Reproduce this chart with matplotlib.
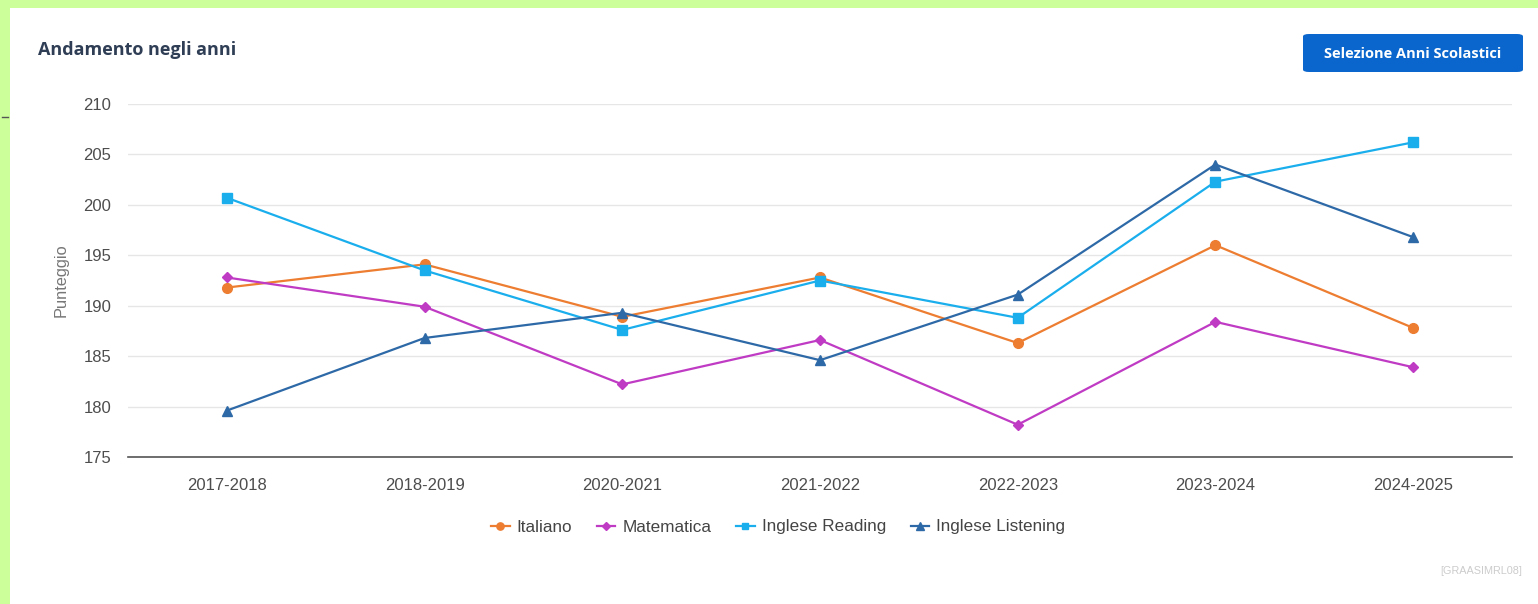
import matplotlib
matplotlib.use("Agg")
import matplotlib.pyplot as plt
from matplotlib.patches import Rectangle, FancyBboxPatch
from matplotlib.lines import Line2D

categories = ["2017-2018", "2018-2019", "2020-2021", "2021-2022", "2022-2023", "2023-2024", "2024-2025"]
italiano = [191.8, 194.1, 188.9, 192.8, 186.3, 196.0, 187.8]
matematica = [192.8, 189.9, 182.2, 186.6, 178.2, 188.4, 183.9]
inglese_reading = [200.7, 193.5, 187.6, 192.5, 188.8, 202.3, 206.2]
inglese_listening = [179.6, 186.8, 189.3, 184.6, 191.1, 204.0, 196.8]
yticks = [175, 180, 185, 190, 195, 200, 205, 210]

W, H = 1538, 604
fig = plt.figure(figsize=(W / 100, H / 100), dpi=100)
fig.patch.set_facecolor("#ccff99")
fig.patches.append(Rectangle((10 / W, 0), 1, 1 - 8 / H, transform=fig.transFigure,
                             facecolor="white", edgecolor="none", zorder=-10))
fig.lines.append(Line2D([2 / W, 8 / W], [1 - 117 / H, 1 - 117 / H], transform=fig.transFigure,
                        color="#555555", lw=1))

ax = fig.add_axes([128 / W, 1 - 457 / H, (1512 - 128) / W, (457 - 104) / H])
ax.set_zorder(1)
ax.set_facecolor("none")

series = [
    ("Italiano", italiano, "#ed7d31", "o", 7),
    ("Matematica", matematica, "#c03bc4", "D", 5),
    ("Inglese Reading", inglese_reading, "#1aaeed", "s", 6.5),
    ("Inglese Listening", inglese_listening, "#2e69a7", "^", 7),
]
x = list(range(len(categories)))
handles = []
for name, vals, col, mk, ms in series:
    h, = ax.plot(x, vals, color=col, marker=mk, markersize=ms, lw=1.6, label=name, zorder=3)
    handles.append(h)

ax.set_xlim(-0.5, len(categories) - 0.5)
ax.set_ylim(175, 210)
ax.set_yticks(yticks)
ax.set_xticks(x)
ax.set_xticklabels(categories)
ax.grid(axis="y", color="#e6e6e6", lw=1)
ax.set_axisbelow(True)
for s in ["top", "right", "left"]:
    ax.spines[s].set_visible(False)
ax.spines["bottom"].set_color("#555555")
ax.spines["bottom"].set_linewidth(1.2)
ax.tick_params(axis="both", length=0, labelsize=12, labelcolor="#4d4d4d",
               labelfontfamily="Liberation Sans")
ax.tick_params(axis="x", pad=15)
ax.tick_params(axis="y", pad=12)
ax.set_ylabel("Punteggio", fontsize=11.8, color="#777777", family="Liberation Sans", labelpad=11)

fig.legend(handles=handles, loc="center", bbox_to_anchor=(778 / W, 1 - 527 / H), ncol=4,
           frameon=False, prop={"family": "Liberation Sans", "size": 12.3}, markerscale=0.75,
           labelcolor="#444444", handlelength=1.1, columnspacing=1.45, handletextpad=0.4)

fig.text(38 / W, 1 - 50 / H, "Andamento negli anni", fontsize=13, fontweight="bold",
         color="#2f3e55", family="Open Sans", va="center", ha="left")

btn = FancyBboxPatch((1303 / W, 1 - 72 / H), (1523 - 1303) / W, (72 - 34) / H,
                     boxstyle="round,pad=0,rounding_size=0.004", transform=fig.transFigure,
                     facecolor="#0a66cc", edgecolor="none")
fig.patches.append(btn)
fig.text(1413 / W, 1 - 54 / H, "Selezione Anni Scolastici", fontsize=10.5, fontweight="bold",
         color="white", family="Open Sans", va="center", ha="center")

fig.text(1522 / W, 1 - 571 / H, "[GRAASIMRL08]", fontsize=7.8, color="#cccccc",
         family="Liberation Sans", va="center", ha="right")

fig.savefig("out.png", dpi=100, facecolor=fig.get_facecolor())
